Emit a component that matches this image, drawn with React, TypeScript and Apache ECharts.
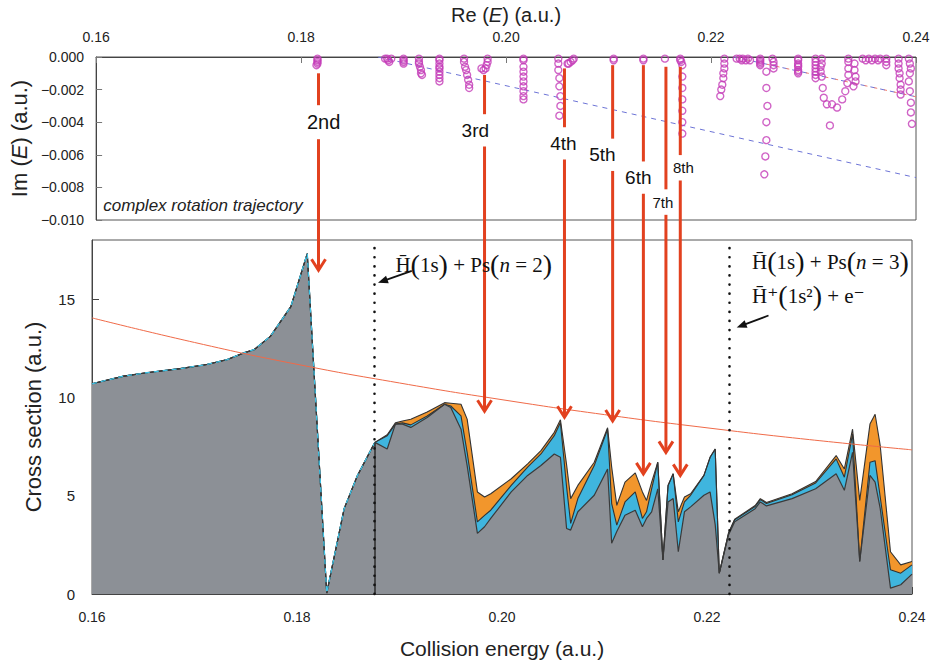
import React, { useEffect, useRef } from 'react';
import * as echarts from 'echarts';

// ---------- Bottom panel: cross sections (a.u.) vs collision energy (a.u.) ----------
const energy = [
  0.1600, 0.1631, 0.1653, 0.1686, 0.1712, 0.1732, 0.1748, 0.1758, 0.1774, 0.1794, 0.1810, 0.1829, 0.1846, 0.1859, 0.1876,
  0.1888, 0.1896, 0.1903, 0.1911, 0.1927, 0.1944, 0.1950, 0.1960, 0.1966, 0.1976, 0.1983, 0.1989, 0.2009, 0.2025, 0.2038,
  0.2051, 0.2057, 0.2063, 0.2067, 0.2074, 0.2090, 0.2103, 0.2107, 0.2112, 0.2120, 0.2130, 0.2137, 0.2141, 0.2146, 0.2152,
  0.2157, 0.2162, 0.2167, 0.2172, 0.2178, 0.2184, 0.2197, 0.2203, 0.2208, 0.2212, 0.2221, 0.2227, 0.2247, 0.2252, 0.2258,
  0.2283, 0.2306, 0.2326, 0.2334, 0.2342, 0.2349, 0.2359, 0.2364, 0.2369, 0.2379, 0.2389, 0.2400,
];
const grayCS = [
  10.69, 11.08, 11.25, 11.46, 11.67, 11.92, 12.26, 12.42, 13.10, 14.61, 17.31, 0.05, 4.34, 6.03, 7.71,
  7.37, 8.64, 8.64, 8.47, 8.97, 9.65, 9.48, 8.38, 6.53, 3.08, 3.42, 3.84, 5.19, 6.03, 6.53,
  7.12, 6.95, 3.33, 3.25, 4.18, 5.02, 6.36, 2.58, 3.18, 4.00, 4.26, 3.42, 3.84, 4.18, 5.35,
  1.73, 4.68, 4.85, 2.15, 4.18, 4.43, 5.02, 5.19, 3.53, 1.06, 3.00, 3.67, 4.34, 4.68, 4.48,
  4.85, 5.35, 6.11, 5.27, 7.20, 1.65, 6.03, 5.69, 4.34, 0.30, 0.47, 1.01,
];
const blueCS = [
  10.69, 11.08, 11.25, 11.46, 11.67, 11.92, 12.26, 12.42, 13.10, 14.61, 17.31, 0.05, 4.34, 6.03, 7.71,
  8.05, 8.64, 8.70, 8.60, 9.05, 9.65, 9.56, 9.06, 7.20, 3.67, 4.00, 4.26, 5.52, 6.45, 7.12,
  8.05, 8.72, 5.45, 3.59, 4.85, 6.53, 8.38, 4.60, 3.50, 4.68, 5.19, 3.84, 4.18, 5.35, 6.70,
  1.73, 5.52, 6.11, 3.67, 4.68, 5.02, 6.03, 6.95, 7.37, 1.06, 3.10, 3.77, 4.45, 4.80, 4.60,
  5.05, 5.65, 6.87, 5.94, 8.13, 1.65, 6.70, 6.78, 4.93, 1.23, 1.06, 1.48,
];
const orangeCS = [
  10.69, 11.08, 11.25, 11.46, 11.67, 11.92, 12.26, 12.42, 13.10, 14.61, 17.31, 0.05, 4.34, 6.03, 7.71,
  8.10, 8.70, 8.80, 8.89, 9.25, 9.73, 9.70, 9.65, 8.89, 5.19, 4.93, 5.10, 5.86, 6.62, 7.29,
  8.22, 8.86, 6.58, 4.85, 5.52, 6.70, 8.45, 6.45, 4.51, 5.69, 6.16, 5.19, 4.76, 5.69, 6.70,
  1.73, 5.52, 6.11, 4.18, 4.93, 5.10, 6.03, 6.95, 7.37, 1.06, 3.10, 3.80, 4.50, 4.85, 4.65,
  5.10, 5.72, 7.04, 6.36, 8.38, 4.76, 8.64, 9.14, 7.54, 2.15, 1.48, 1.65,
];

// smooth background curve
const curveE = [0.16, 0.17, 0.18, 0.19, 0.20, 0.21, 0.22, 0.23, 0.24];
const curveCS = [14.04, 12.79, 11.68, 10.73, 9.88, 9.12, 8.45, 7.85, 7.33];

// thresholds: Ps(n=2) and Ps(n=3)
const thresholdE = [0.1875, 0.2222];
const rotationLineEndIm = [-0.0074, -0.00244];

// ---------- Top panel: complex rotation trajectory (Re E, Im E) ----------
const trajectory: number[][] = [
  [0.1816, -0.0001], [0.1816, -0.0002], [0.1816, -0.0003], [0.1816, -0.0004], [0.1815, -0.0005],
  [0.1882, -0.0001], [0.1885, -0.0002], [0.1888, -0.0001], [0.1886, -0.0003], [0.1884, -0.0001],
  [0.1900, -0.0001], [0.1900, -0.0002], [0.1900, -0.0003], [0.1900, -0.0004],
  [0.1915, -0.0001], [0.1915, -0.0003], [0.1915, -0.0004], [0.1916, -0.0006], [0.1917, -0.0008], [0.1917, -0.0010], [0.1918, -0.0011],
  [0.1935, -0.0001], [0.1935, -0.0002], [0.1935, -0.0004], [0.1935, -0.0006], [0.1935, -0.0007], [0.1935, -0.0009], [0.1935, -0.0011], [0.1935, -0.0013], [0.1935, -0.0015],
  [0.1959, -0.0001], [0.1959, -0.0003], [0.1960, -0.0006], [0.1961, -0.0008], [0.1962, -0.0011], [0.1963, -0.0014], [0.1964, -0.0017], [0.1964, -0.0019],
  [0.1982, -0.0001], [0.1982, -0.0003], [0.1981, -0.0005], [0.1980, -0.0007], [0.1978, -0.0008], [0.1976, -0.0007],
  [0.2017, -0.0001], [0.2017, -0.0002], [0.2017, -0.0006], [0.2017, -0.0009], [0.2017, -0.0012], [0.2017, -0.0015], [0.2017, -0.0018], [0.2017, -0.0021], [0.2017, -0.0024], [0.2017, -0.0026],
  [0.2051, -0.0001], [0.2051, -0.0004], [0.2051, -0.0008], [0.2052, -0.0013], [0.2052, -0.0018], [0.2053, -0.0024], [0.2053, -0.0030], [0.2052, -0.0036],
  [0.2066, -0.0001], [0.2065, -0.0002], [0.2063, -0.0003], [0.2061, -0.0004], [0.2060, -0.0004],
  [0.2105, -0.0001], [0.2105, -0.0002],
  [0.2134, -0.0001], [0.2134, -0.0002],
  [0.2155, -0.0001],
  [0.2170, -0.0001], [0.2170, -0.0002], [0.2171, -0.0003],
  [0.2172, -0.0005], [0.2172, -0.0012], [0.2172, -0.0019], [0.2172, -0.0026], [0.2172, -0.0033], [0.2172, -0.0040], [0.2172, -0.0047],
  [0.2213, -0.0001], [0.2213, -0.0004], [0.2213, -0.0007], [0.2212, -0.0010], [0.2212, -0.0013], [0.2211, -0.0017], [0.2210, -0.0020], [0.2209, -0.0024],
  [0.2225, -0.0001], [0.2228, -0.0001], [0.2231, -0.0001], [0.2234, -0.0002], [0.2236, -0.0001], [0.2238, -0.0002], [0.2230, -0.0002],
  [0.2248, -0.0001], [0.2248, -0.0002], [0.2248, -0.0003], [0.2248, -0.0004], [0.2248, -0.0005],
  [0.2254, -0.0009], [0.2254, -0.0019], [0.2255, -0.0030], [0.2254, -0.0040], [0.2254, -0.0051], [0.2253, -0.0061], [0.2252, -0.0072],
  [0.2260, -0.0001], [0.2261, -0.0003], [0.2261, -0.0005], [0.2261, -0.0007],
  [0.2285, -0.0001], [0.2285, -0.0002], [0.2285, -0.0004], [0.2285, -0.0005], [0.2285, -0.0006], [0.2285, -0.0008], [0.2285, -0.0009], [0.2285, -0.0010],
  [0.2302, -0.0001], [0.2302, -0.0003], [0.2302, -0.0005], [0.2302, -0.0007], [0.2302, -0.0009], [0.2302, -0.0011], [0.2302, -0.0013],
  [0.2308, -0.0001], [0.2308, -0.0004], [0.2307, -0.0006], [0.2307, -0.0009], [0.2308, -0.0012], [0.2309, -0.0019], [0.2310, -0.0025],
  [0.2313, -0.0029], [0.2318, -0.0029], [0.2316, -0.0042], [0.2323, -0.0031], [0.2328, -0.0026], [0.2331, -0.0021], [0.2333, -0.0016],
  [0.2334, -0.0011], [0.2334, -0.0007], [0.2334, -0.0003], [0.2334, -0.0001],
  [0.2340, -0.0004], [0.2340, -0.0008], [0.2341, -0.0012], [0.2341, -0.0015], [0.2339, -0.0018],
  [0.2348, -0.0001], [0.2351, -0.0002], [0.2354, -0.0001], [0.2357, -0.0002], [0.2360, -0.0001], [0.2363, -0.0002], [0.2365, -0.0001],
  [0.2371, -0.0001], [0.2371, -0.0003], [0.2371, -0.0005],
  [0.2383, -0.0001], [0.2383, -0.0004], [0.2383, -0.0007], [0.2384, -0.0010], [0.2384, -0.0013], [0.2385, -0.0017], [0.2385, -0.0020], [0.2385, -0.0023],
  [0.2393, -0.0001], [0.2394, -0.0004], [0.2395, -0.0007], [0.2394, -0.0010], [0.2393, -0.0015], [0.2394, -0.0021], [0.2395, -0.0028], [0.2395, -0.0034], [0.2396, -0.0041],
];

// ---------- Resonance arrows ----------
const arrowLabels = ['2nd', '3rd', '4th', '5th', '6th', '7th', '8th'];
const arrowE = [0.1817, 0.1979, 0.2057, 0.2104, 0.2134, 0.2156, 0.2170];
const arrowStartIm = [-0.0010, -0.0011, -0.0007, -0.0005, -0.0005, -0.0006, -0.0006];
const arrowLabelIm = [-0.0040, -0.0045, -0.0053, -0.0060, -0.0074, -0.0089, -0.0068];
const arrowEndCS = [16.46, 9.29, 8.99, 8.80, 6.11, 7.20, 6.03];
const arrowLabelSize = [20, 19, 19, 19, 19, 15, 15];
const arrowLabelShiftE = [0.0005, -0.0009, -0.0001, -0.0010, -0.0005, -0.0003, 0.0003];

// channel annotations (bottom panel data coordinates)
const channelText = [
  '{a|H\u0304}{p|(}{a|1s}{p|)}{a| + Ps}{p|(}{i|n}{a| = 2}{p|)}',
  '{a|H\u0304}{p|(}{a|1s}{p|)}{a| + Ps}{p|(}{i|n}{a| = 3}{p|)}',
  '{a|H\u0304\u207A}{p|(}{a|1s\u00B2}{p|)}{a| + e\u207B}',
];
const channelE = [0.1896, 0.2244, 0.2244];
const channelCS = [16.73, 16.89, 15.17];
const pointerFrom = [[0.1912, 16.43], [0.2260, 14.16]];
const pointerTo = [[0.1879, 15.82], [0.2229, 13.55]];

const SANS = 'Liberation Sans, Arial, Helvetica, sans-serif';
const SERIF = 'Liberation Serif, DejaVu Serif, Times New Roman, serif';
const RED = '#e2411f';

export default function App() {
  const ref = useRef<HTMLDivElement>(null);

  useEffect(() => {
    const chart = echarts.init(ref.current!, null, { renderer: 'svg' });
    const axisLine = { show: true, lineStyle: { color: '#444', width: 1 } };
    const edgeIdx = energy.indexOf(0.1876);

    const option: any = {
      animation: false,
      backgroundColor: '#fff',
      grid: [
        { left: 93, top: 57, width: 823, height: 163, show: true, borderColor: '#555', borderWidth: 1, backgroundColor: 'transparent' },
        { left: 92, top: 240, width: 820, height: 356, show: true, borderColor: '#555', borderWidth: 1, backgroundColor: 'transparent' },
      ],
      xAxis: [
        {
          type: 'value', gridIndex: 0, position: 'top', min: 0.16, max: 0.24, interval: 0.02,
          axisLine, axisTick: { inside: true, length: 6, lineStyle: { color: '#777' } }, splitLine: { show: false },
          axisLabel: { formatter: (v: number) => v.toFixed(2), fontSize: 14, color: '#222', fontFamily: SANS, margin: 13 },
          name: 'Re ({i|E}) (a.u.)', nameLocation: 'middle', nameGap: 32,
          nameTextStyle: { fontSize: 20, color: '#222', fontFamily: SANS, rich: { i: { fontStyle: 'italic', fontSize: 20, fontFamily: SANS, color: '#222' } } },
        },
        {
          type: 'value', gridIndex: 1, position: 'bottom', min: 0.16, max: 0.24, interval: 0.02,
          axisLine, axisTick: { inside: true, length: 7, lineStyle: { color: '#444' } }, splitLine: { show: false },
          axisLabel: { formatter: (v: number) => v.toFixed(2), fontSize: 14, color: '#222', fontFamily: SANS, margin: 16 },
          name: 'Collision energy (a.u.)', nameLocation: 'middle', nameGap: 44,
          nameTextStyle: { fontSize: 21, color: '#222', fontFamily: SANS },
        },
      ],
      yAxis: [
        {
          type: 'value', gridIndex: 0, min: -0.01, max: 0, interval: 0.002,
          axisLine, axisTick: { inside: true, length: 6, lineStyle: { color: '#777' } }, splitLine: { show: false },
          axisLabel: {
            formatter: (v: number) => (Math.abs(v) < 1e-9 ? '0.000' : '\u2212' + Math.abs(v).toFixed(3)),
            fontSize: 14, color: '#222', fontFamily: SANS, margin: 12,
          },
          name: 'Im ({i|E}) (a.u.)', nameLocation: 'middle', nameGap: 64, nameRotate: 90,
          nameTextStyle: { fontSize: 22, color: '#222', fontFamily: SANS, rich: { i: { fontStyle: 'italic', fontSize: 22, fontFamily: SANS, color: '#222' } } },
        },
        {
          type: 'value', gridIndex: 1, min: 0, max: 18, interval: 5,
          axisLine, axisTick: { inside: true, length: 7, lineStyle: { color: '#444' } }, splitLine: { show: false },
          axisLabel: { fontSize: 15, color: '#222', fontFamily: SANS, margin: 17, showMaxLabel: false },
          name: 'Cross section (a.u.)', nameLocation: 'middle', nameGap: 48, nameRotate: 90,
          nameTextStyle: { fontSize: 22, color: '#222', fontFamily: SANS },
        },
      ],
      series: [
        {
          type: 'scatter', xAxisIndex: 0, yAxisIndex: 0, data: trajectory, symbol: 'circle', symbolSize: 7,
          itemStyle: { color: 'rgba(255,255,255,0)', borderColor: '#c43cb8', borderWidth: 1.4 }, z: 4,
        },
        {
          type: 'line', xAxisIndex: 0, yAxisIndex: 0, symbol: 'none', z: 3,
          data: [[thresholdE[0], 0], [0.24, rotationLineEndIm[0]]],
          lineStyle: { color: '#6d74d6', width: 1, type: [5, 5] },
        },
        {
          type: 'line', xAxisIndex: 0, yAxisIndex: 0, symbol: 'none', z: 3,
          data: [[thresholdE[1], 0], [0.24, rotationLineEndIm[1]]],
          lineStyle: { color: '#6d74d6', width: 1, type: [5, 5] },
        },
        {
          type: 'line', xAxisIndex: 0, yAxisIndex: 0, symbol: 'none', z: 3,
          data: [[thresholdE[1], 0], [0.24, rotationLineEndIm[1]]],
          lineStyle: { color: '#f08070', width: 1, type: [3, 7], dashOffset: 6 },
        },
        {
          type: 'line', xAxisIndex: 1, yAxisIndex: 1, symbol: 'none', z: 2,
          data: energy.map((e, i) => [e, orangeCS[i]]),
          lineStyle: { color: '#333', width: 1.1 },
          areaStyle: { color: '#f2962c', opacity: 1 },
        },
        {
          type: 'line', xAxisIndex: 1, yAxisIndex: 1, symbol: 'none', z: 2,
          data: energy.map((e, i) => [e, blueCS[i]]),
          lineStyle: { color: '#333', width: 1.1 },
          areaStyle: { color: '#3fb5de', opacity: 1 },
        },
        {
          type: 'line', xAxisIndex: 1, yAxisIndex: 1, symbol: 'none', z: 2,
          data: energy.map((e, i) => [e, grayCS[i]]),
          lineStyle: { color: '#3a3a3a', width: 1.2 },
          areaStyle: { color: '#8c9096', opacity: 1 },
        },
        {
          type: 'line', xAxisIndex: 1, yAxisIndex: 1, symbol: 'none', z: 3,
          data: energy.slice(0, edgeIdx + 1).map((e, i) => [e, grayCS[i]]),
          lineStyle: { color: '#3fc3e6', width: 1.3, type: [5, 4] },
        },
        {
          type: 'line', xAxisIndex: 1, yAxisIndex: 1, symbol: 'none', smooth: true, z: 3,
          data: curveE.map((e, i) => [e, curveCS[i]]),
          lineStyle: { color: '#f06a48', width: 1 },
        },
        {
          type: 'line', xAxisIndex: 1, yAxisIndex: 1, data: [], z: 5, silent: true,
          markLine: {
            silent: true, symbol: ['none', 'none'], label: { show: false },
            data: [
              [
                { coord: [energy[edgeIdx], 0], lineStyle: { type: 'solid', color: '#333', width: 1.6 } },
                { coord: [energy[edgeIdx], grayCS[edgeIdx]] },
              ],
              [
                { coord: [thresholdE[0], 0], lineStyle: { type: [0.1, 9], cap: 'round', color: '#111', width: 2.6 } },
                { coord: [thresholdE[0], 18] },
              ],
              [
                { coord: [thresholdE[1], 0], lineStyle: { type: [0.1, 9], cap: 'round', color: '#111', width: 2.6 } },
                { coord: [thresholdE[1], 18] },
              ],
            ],
          },
        },
      ],
    };
    chart.setOption(option);

    const top = (e: number, im: number) => chart.convertToPixel({ gridIndex: 0 } as any, [e, im]) as number[];
    const bot = (e: number, cs: number) => chart.convertToPixel({ gridIndex: 1 } as any, [e, cs]) as number[];

    const g: any[] = [];
    arrowLabels.forEach((lab, i) => {
      const [x, y0] = top(arrowE[i], arrowStartIm[i]);
      const [xl, yl] = top(arrowE[i] + arrowLabelShiftE[i], arrowLabelIm[i]);
      const [, yt] = bot(arrowE[i], arrowEndCS[i]);
      const gap = arrowLabelSize[i] * 0.85;
      const ls = { stroke: RED, lineWidth: 3, fill: null };
      g.push({ type: 'line', z: 100, shape: { x1: x, y1: y0, x2: x, y2: yl - gap }, style: ls });
      g.push({ type: 'line', z: 100, shape: { x1: x, y1: yl + gap, x2: x, y2: yt - 2 }, style: ls });
      g.push({ type: 'polyline', z: 100, shape: { points: [[x - 7, yt - 11], [x, yt], [x + 7, yt - 11]] }, style: { ...ls, lineJoin: 'miter' } });
      g.push({
        type: 'text', z: 101, x: xl, y: yl,
        style: {
          text: lab, fontSize: arrowLabelSize[i], fontFamily: SANS, fill: '#111',
          align: 'center', verticalAlign: 'middle', textAlign: 'center', textVerticalAlign: 'middle',
        },
      });
    });

    const rich = {
      a: { fontSize: 21, fontFamily: SERIF, fill: '#111', color: '#111' },
      p: { fontSize: 28, fontFamily: SERIF, fill: '#111', color: '#111' },
      i: { fontSize: 21, fontFamily: SERIF, fontStyle: 'italic', fill: '#111', color: '#111' },
    };
    channelText.forEach((t, i) => {
      const [x, y] = bot(channelE[i], channelCS[i]);
      g.push({
        type: 'text', z: 101, x, y,
        style: { text: t, rich, align: 'left', verticalAlign: 'middle', textAlign: 'left', textVerticalAlign: 'middle' },
      });
    });

    pointerFrom.forEach((p, i) => {
      const [x1, y1] = bot(p[0], p[1]);
      const [x2, y2] = bot(pointerTo[i][0], pointerTo[i][1]);
      const dx = x2 - x1, dy = y2 - y1;
      const len = Math.hypot(dx, dy);
      const ux = dx / len, uy = dy / len;
      const nx = -uy, ny = ux;
      const hl = 10, hw = 4;
      g.push({ type: 'line', z: 100, shape: { x1, y1, x2: x2 - ux * 8, y2: y2 - uy * 8 }, style: { stroke: '#111', lineWidth: 1.8 } });
      g.push({
        type: 'polygon', z: 100,
        shape: { points: [[x2, y2], [x2 - ux * hl + nx * hw, y2 - uy * hl + ny * hw], [x2 - ux * hl - nx * hw, y2 - uy * hl - ny * hw]] },
        style: { fill: '#111' },
      });
    });

    const [tx, ty] = top(0.1607, -0.00908);
    g.push({
      type: 'text', z: 101, x: tx, y: ty,
      style: {
        text: 'complex rotation trajectory', fontSize: 17, fontStyle: 'italic', fontFamily: SANS, fill: '#222',
        align: 'left', verticalAlign: 'middle', textAlign: 'left', textVerticalAlign: 'middle',
      },
    });

    chart.setOption({ graphic: g });
    return () => chart.dispose();
  }, []);

  return <div ref={ref} style={{ position: 'absolute', left: 0, top: 0, width: 936, height: 664 }} />;
}
